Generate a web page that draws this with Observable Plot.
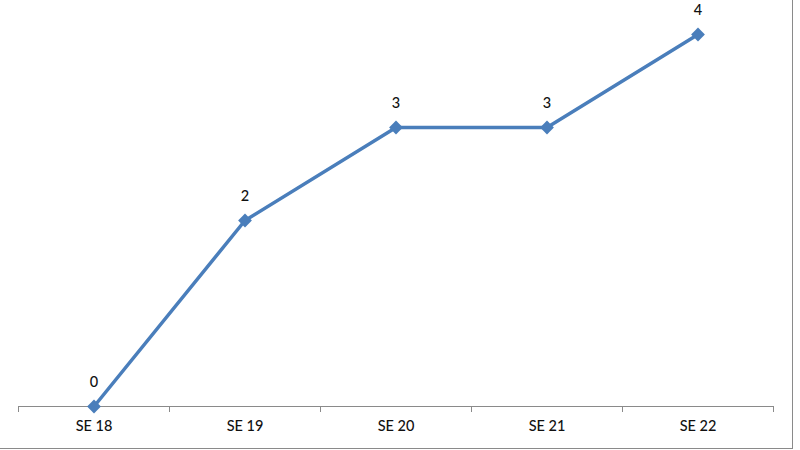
<!DOCTYPE html>
<html>
<head>
<meta charset="utf-8">
<script src="https://cdn.jsdelivr.net/npm/d3@7"></script>
<script src="https://cdn.jsdelivr.net/npm/@observablehq/plot@0.6"></script>
<style>
  body { margin: 0; background: #fff; }
  #chart svg { display: block; border-right: 1.5px solid #8a8a8a; border-bottom: 1.5px solid #8a8a8a; }
</style>
</head>
<body>
<div id="chart"></div>
<script>
// Semanas epidemiológicas y valores
const semanas = ["SE 18", "SE 19", "SE 20", "SE 21", "SE 22"];
const valores = [0, 2, 3, 3, 4];

const data = semanas.map((s, i) => ({i, semana: s, valor: valores[i]}));
const azul = "#4A7EBB";

let chart = Plot.plot({
  width: 792,
  height: 448,
  marginLeft: 18,
  marginRight: 19,
  marginTop: 34,
  marginBottom: 42,
  style: {fontFamily: "Lato, 'Open Sans', sans-serif", fontSize: "14px", color: "#000"},
  x: {domain: [-0.5, semanas.length - 0.5], label: null},
  y: {domain: [0, 4], axis: null},
  marks: [
    Plot.ruleY([0], {stroke: "#8a8a8a", strokeWidth: 1.2}),
    // marcas entre categorías
    Plot.axisX(d3.range(-0.5, semanas.length, 1), {tickSize: 6, tickFormat: () => "", label: null, stroke: "#8a8a8a", strokeOpacity: 1}),
    Plot.axisX(d3.range(semanas.length), {tickSize: 0, tickPadding: 14, tickFormat: i => semanas[i], label: null, fontSize: 14.5, fill: "#111", fontWeight: 500}),
    Plot.line(data, {x: "i", y: "valor", stroke: azul, strokeWidth: 3.5}),
    Plot.dot(data, {x: "i", y: "valor", symbol: "square", rotate: 45, r: 5.5, fill: azul}),
    Plot.text(data, {x: "i", y: "valor", text: d => String(d.valor), dy: -24, fontSize: 14.5, fill: "#111", fontWeight: 500})
  ]
});

d3.select('#chart').append(() => chart);
</script>
</body>
</html>
